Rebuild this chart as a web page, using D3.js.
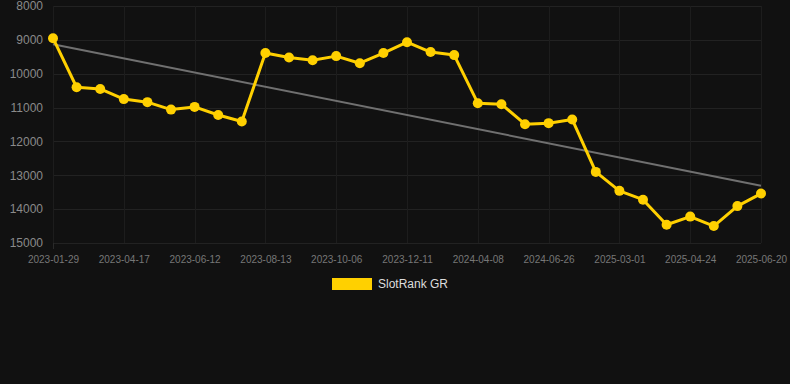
<!DOCTYPE html>
<html><head><meta charset="utf-8">
<script src="https://cdn.jsdelivr.net/npm/d3@7"></script>
<style>
html,body{margin:0;padding:0;background:#111111;}
svg{display:block;}
</style></head>
<body>
<svg id="c" width="790" height="384"></svg>
<script>
const seriesName = "SlotRank GR";
const rankValues = [8950,10400,10450,10750,10840,11060,10980,11220,11410,9390,
  9520,9600,9480,9690,9390,9070,9360,9450,10870,10900,
  11490,11460,11350,12900,13460,13720,14460,14220,14500,13910,13540];
const tickLabels = ["2023-01-29","2023-04-17","2023-06-12","2023-08-13","2023-10-06",
  "2023-12-11","2024-04-08","2024-06-26","2025-03-01","2025-04-24","2025-06-20"];
const yTicks = [8000,9000,10000,11000,12000,13000,14000,15000];

const svg = d3.select("#c");
const pL = 53, pR = 761, pT = 6, pB = 243;
const idx = rankValues.map((_, i) => i);
const x = d3.scalePoint().domain(idx).range([pL, pR]);
const y = d3.scaleLinear().domain([8000, 15000]).range([pT, pB]);
const tickIdx = tickLabels.map((_, i) => i * 3);
const FONT = "Arial, 'Liberation Sans', sans-serif";

// grid
svg.append("g").selectAll("line").data(yTicks).join("line")
  .attr("x1", pL).attr("x2", pR)
  .attr("y1", d => Math.round(y(d)) + 0.5).attr("y2", d => Math.round(y(d)) + 0.5)
  .attr("stroke", "#222222").attr("stroke-width", 1);
svg.append("g").selectAll("line").data(tickIdx).join("line")
  .attr("x1", d => Math.round(x(d)) + 0.5).attr("x2", d => Math.round(x(d)) + 0.5)
  .attr("y1", pT).attr("y2", pB)
  .attr("stroke", "#1d1d1d").attr("stroke-width", 1);

// y axis labels
const yAxis = d3.axisLeft(y).tickValues(yTicks).tickSize(0).tickPadding(0).tickFormat(d3.format("d"));
const gy = svg.append("g").attr("transform", `translate(43,0)`).call(yAxis);
gy.select(".domain").remove();
gy.selectAll("text").attr("fill", "#8a8a8a").style("font-family", FONT).style("font-size", "12px");

// x axis labels
const xAxis = d3.axisBottom(x).tickValues(tickIdx).tickSize(0).tickPadding(0)
  .tickFormat(d => tickLabels[d / 3]);
const gx = svg.append("g").attr("transform", `translate(0,${pB + 16})`).call(xAxis);
gx.select(".domain").remove();
gx.selectAll("text").attr("fill", "#777777").attr("dy", "0.35em").style("font-family", FONT).style("font-size", "10px");

// small tick at first x
svg.append("line").attr("x1", pL + 0.5).attr("x2", pL + 0.5).attr("y1", pB).attr("y2", pB + 6)
  .attr("stroke", "#2a2a2a").attr("stroke-width", 1);

// trend line (least squares)
const n = rankValues.length;
const mx = d3.mean(idx), my = d3.mean(rankValues);
const slope = d3.sum(idx, i => (i - mx) * (rankValues[i] - my)) / d3.sum(idx, i => (i - mx) ** 2);
const icpt = my - slope * mx;
svg.append("line")
  .attr("x1", x(0)).attr("y1", y(icpt))
  .attr("x2", x(n - 1)).attr("y2", y(icpt + slope * (n - 1)))
  .attr("stroke", "#707070").attr("stroke-width", 2);

// series
const line = d3.line().x((d, i) => x(i)).y(d => y(d));
svg.append("path").datum(rankValues).attr("d", line)
  .attr("fill", "none").attr("stroke", "#ffd000").attr("stroke-width", 3).attr("stroke-linejoin", "round");
svg.append("g").selectAll("circle").data(rankValues).join("circle")
  .attr("cx", (d, i) => x(i)).attr("cy", d => y(d)).attr("r", 5)
  .attr("fill", "#ffd000");

// legend
svg.append("rect").attr("x", 332).attr("y", 278).attr("width", 40).attr("height", 12).attr("fill", "#ffd000");
svg.append("text").attr("x", 378).attr("y", 284).attr("dy", "0.35em").text(seriesName)
  .attr("fill", "#dddddd").style("font-family", FONT).style("font-size", "12px");
</script>
</body></html>
